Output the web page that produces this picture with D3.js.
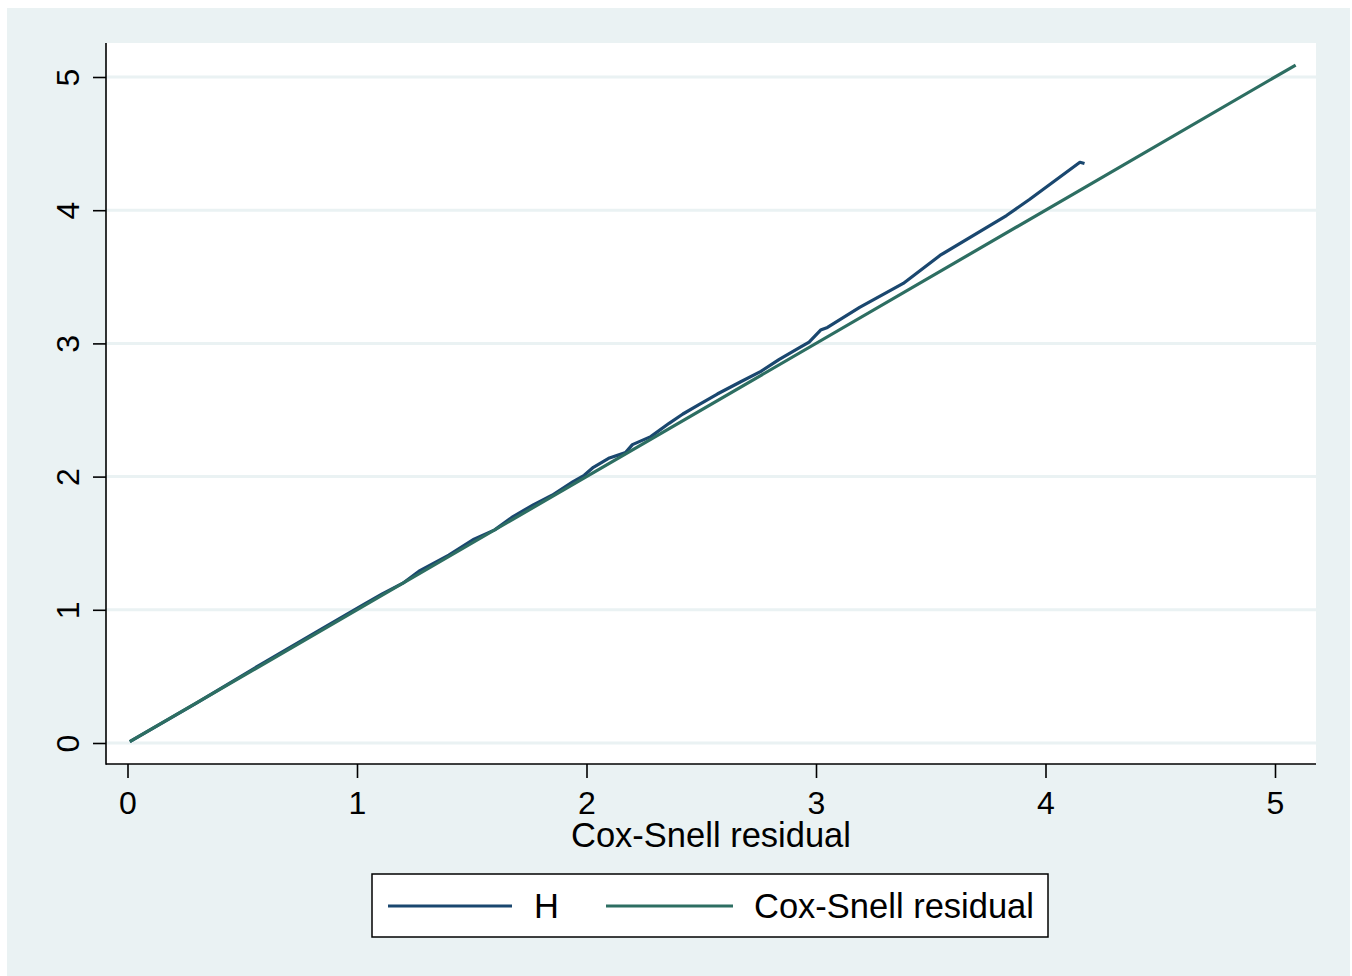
<!DOCTYPE html>
<html lang="en">
<head>
    <meta charset="UTF-8">
    <script src="https://cdn.jsdelivr.net/npm/d3@7"></script>
    <style>
        body { margin: 0; background: #fff; }
        text { font-family: "Liberation Sans", Arial, sans-serif; fill: #000; }
    </style>
</head>
<body>
<div id="chart"></div>
<script>
    // DATA
    const X_TICKS = [0, 1, 2, 3, 4, 5];
    const Y_TICKS = [0, 1, 2, 3, 4, 5];
    // Nelson-Aalen cumulative hazard H against Cox-Snell residual
    const hX = [0.01, 0.30, 0.60, 0.85, 1.03, 1.11, 1.20, 1.27, 1.40, 1.51, 1.60, 1.68, 1.77, 1.85, 1.94, 1.99,
        2.03, 2.10, 2.17, 2.20, 2.28, 2.36, 2.42, 2.49, 2.57, 2.67, 2.76, 2.84, 2.93, 2.97, 3.02, 3.05,
        3.19, 3.38, 3.54, 3.83, 3.93, 4.15, 4.17];
    const hY = [0.01, 0.30, 0.61, 0.86, 1.04, 1.12, 1.20, 1.29, 1.41, 1.53, 1.60, 1.70, 1.79, 1.86, 1.96, 2.01,
        2.07, 2.14, 2.18, 2.24, 2.30, 2.40, 2.47, 2.54, 2.62, 2.71, 2.79, 2.88, 2.97, 3.01, 3.10, 3.12,
        3.27, 3.45, 3.66, 3.96, 4.08, 4.36, 4.35];
    // reference line: residual against itself
    const csX = [0.01, 4.17, 5.09];
    const csY = [0.01, 4.17, 5.09];
    const LEGEND = ["H", "Cox-Snell residual"];
    const X_TITLE = "Cox-Snell residual";

    // LAYOUT
    const W = 1352, H = 976;
    const BG = "#eaf2f3";
    const NAVY = "#1a476f", GREEN = "#2d6e62";
    const plot = { left: 106, right: 1316, top: 43, bottom: 764 };

    const svg = d3.select("#chart").append("svg")
        .attr("width", W)
        .attr("height", H);

    // outer graph region + white plot region
    svg.append("rect").attr("x", 7).attr("y", 8).attr("width", 1343).attr("height", 968).attr("fill", BG);
    svg.append("rect").attr("x", plot.left).attr("y", plot.top)
        .attr("width", plot.right - plot.left).attr("height", plot.bottom - plot.top).attr("fill", "#fff");

    const x = d3.scaleLinear().domain([0, 5]).range([127.5, 1275]);
    const y = d3.scaleLinear().domain([0, 5]).range([743, 77]);

    // gridlines
    svg.append("g").selectAll("line")
        .data(Y_TICKS)
        .enter().append("line")
        .attr("x1", plot.left).attr("x2", plot.right)
        .attr("y1", d => y(d)).attr("y2", d => y(d))
        .attr("stroke", BG).attr("stroke-width", 3);

    // axes
    const yAxis = svg.append("g")
        .attr("transform", `translate(${plot.left},0)`)
        .call(d3.axisLeft(y).tickValues(Y_TICKS).tickSize(13).tickFormat(d3.format("d")));
    yAxis.select(".domain").remove();
    yAxis.selectAll(".tick line").attr("stroke", "#000").attr("stroke-width", 1.6);
    yAxis.selectAll(".tick text")
        .attr("x", null).attr("dy", null)
        .attr("transform", "translate(-27,0) rotate(-90)")
        .attr("text-anchor", "middle")
        .style("font-size", "32px");

    const xAxis = svg.append("g")
        .attr("transform", `translate(0,${plot.bottom})`)
        .call(d3.axisBottom(x).tickValues(X_TICKS).tickSize(14).tickFormat(d3.format("d")));
    xAxis.select(".domain").remove();
    xAxis.selectAll(".tick line").attr("stroke", "#000").attr("stroke-width", 1.6);
    xAxis.selectAll(".tick text")
        .attr("y", 50).attr("dy", null)
        .style("font-size", "32px");

    svg.append("line").attr("x1", plot.left).attr("x2", plot.left)
        .attr("y1", plot.top).attr("y2", plot.bottom + 0.8)
        .attr("stroke", "#000").attr("stroke-width", 1.6);
    svg.append("line").attr("x1", plot.left).attr("x2", plot.right)
        .attr("y1", plot.bottom).attr("y2", plot.bottom)
        .attr("stroke", "#000").attr("stroke-width", 1.6);

    svg.append("text")
        .attr("x", (plot.left + plot.right) / 2).attr("y", 847)
        .attr("text-anchor", "middle")
        .style("font-size", "34.5px")
        .text(X_TITLE);

    // series
    const line = d3.line().x(d => x(d[0])).y(d => y(d[1]));
    svg.append("path")
        .datum(hX.map((v, i) => [v, hY[i]]))
        .attr("d", line).attr("fill", "none")
        .attr("stroke", NAVY).attr("stroke-width", 3.2).attr("stroke-linejoin", "round");
    svg.append("path")
        .datum(csX.map((v, i) => [v, csY[i]]))
        .attr("d", line).attr("fill", "none")
        .attr("stroke", GREEN).attr("stroke-width", 3.2).attr("stroke-linejoin", "round");

    // legend
    const lg = svg.append("g");
    lg.append("rect").attr("x", 372).attr("y", 874).attr("width", 676).attr("height", 63)
        .attr("fill", "#fff").attr("stroke", "#000").attr("stroke-width", 1.5);
    const items = [
        { label: LEGEND[0], color: NAVY, x1: 388, x2: 512, tx: 534 },
        { label: LEGEND[1], color: GREEN, x1: 606, x2: 733, tx: 754 }
    ];
    items.forEach(it => {
        lg.append("line").attr("x1", it.x1).attr("x2", it.x2).attr("y1", 906).attr("y2", 906)
            .attr("stroke", it.color).attr("stroke-width", 3);
        lg.append("text").attr("x", it.tx).attr("y", 918)
            .style("font-size", "34.5px").text(it.label);
    });
</script>
</body>
</html>
